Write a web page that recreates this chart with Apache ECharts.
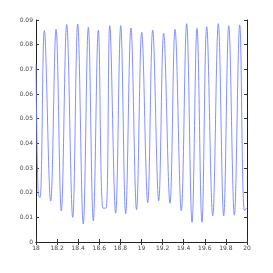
<!DOCTYPE html>
<html><head><meta charset="utf-8">
<script src="https://cdn.jsdelivr.net/npm/echarts@6/dist/echarts.min.js"></script>
<style>html,body{margin:0;padding:0;background:#fff}#c{width:273px;height:273px}</style>
</head><body><div id="c"></div>
<script>
var times = [18.000,18.020,18.038,18.079,18.139,18.190,18.240,18.291,18.348,18.395,18.448,18.496,18.543,18.591,18.635,18.664,18.699,18.755,18.803,18.850,18.900,18.953,19.002,19.059,19.106,19.163,19.210,19.270,19.318,19.377,19.428,19.479,19.526,19.573,19.618,19.675,19.728,19.779,19.827,19.880,19.931,19.976,20.000];
var values = [0.0720,0.0195,0.0180,0.0857,0.0166,0.0862,0.0126,0.0882,0.0100,0.0884,0.0073,0.0870,0.0086,0.0859,0.0137,0.0137,0.0877,0.0117,0.0877,0.0115,0.0867,0.0131,0.0850,0.0159,0.0859,0.0167,0.0846,0.0157,0.0862,0.0127,0.0885,0.0080,0.0866,0.0080,0.0873,0.0106,0.0885,0.0106,0.0877,0.0109,0.0880,0.0127,0.0140];
var xTicks = ['18','18.2','18.4','18.6','18.8','19','19.2','19.4','19.6','19.8','20'];
var yTicks = ['0','0.01','0.02','0.03','0.04','0.05','0.06','0.07','0.08','0.09'];

var chart = echarts.init(document.getElementById('c'), null, {renderer:'canvas'});
var lab = {fontSize:6, color:'#444', fontFamily:'DejaVu Sans'};
var axLine = {show:true, lineStyle:{color:'#222', width:1}};
var data = times.map(function(t,i){return [t, values[i]];});
chart.setOption({
  animation:false,
  grid:{left:36, right:26, top:20, bottom:31, containLabel:false},
  xAxis:[{type:'value', min:18, max:20, interval:0.2, position:'bottom',
    axisLine:axLine, axisTick:{show:true, inside:true, length:3, lineStyle:{color:'#333'}},
    splitLine:{show:false},
    axisLabel:Object.assign({margin:3, formatter:function(v){return xTicks[Math.round((v-18)/0.2)];}}, lab)},
   {type:'value', min:18, max:20, interval:0.2, position:'top',
    axisLine:axLine, axisTick:{show:true, inside:true, length:3, lineStyle:{color:'#333'}},
    splitLine:{show:false}, axisLabel:{show:false}}],
  yAxis:[{type:'value', min:0, max:0.09, interval:0.01, position:'left',
    axisLine:axLine, axisTick:{show:true, inside:true, length:3, lineStyle:{color:'#333'}},
    splitLine:{show:false},
    axisLabel:Object.assign({margin:3, formatter:function(v){return yTicks[Math.round(v/0.01)];}}, lab)},
   {type:'value', min:0, max:0.09, interval:0.01, position:'right',
    axisLine:axLine, axisTick:{show:true, inside:true, length:3, lineStyle:{color:'#333'}},
    splitLine:{show:false}, axisLabel:{show:false}}],
  series:[{type:'line', data:data, smooth:0.4, showSymbol:false, symbol:'none',
    lineStyle:{color:'#7585ff', width:0.9}}]
});
</script></body></html>
